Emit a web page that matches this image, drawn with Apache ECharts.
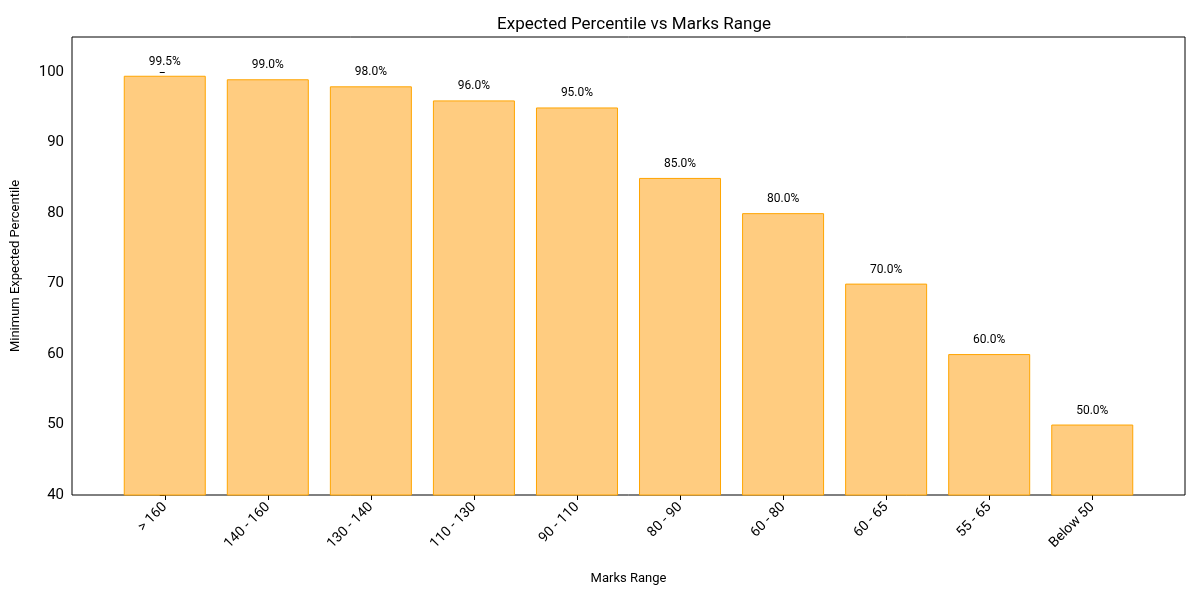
<!DOCTYPE html><html><head><meta charset="utf-8">
<script src="https://cdn.jsdelivr.net/npm/echarts@6/dist/echarts.min.js"></script>
<style>html,body{margin:0;background:#fff}#c{width:1200px;height:600px}</style></head><body><div id="c"></div>
<script>
const categories = ['> 160','140 - 160','130 - 140','110 - 130','90 - 110','80 - 90','60 - 80','60 - 65','55 - 65','Below 50'];
const percentiles = [99.5, 99.0, 98.0, 96.0, 95.0, 85.0, 80.0, 70.0, 60.0, 50.0];
const yTicks = [40, 50, 60, 70, 80, 90, 100];
const idx = categories.map((c,i)=>i);
const chart = echarts.init(document.getElementById('c'));
const font = 'Roboto, "DejaVu Sans", sans-serif';
chart.setOption({
  animation:false,
  textStyle:{fontFamily:font},
  title:{text:'Expected Percentile vs Marks Range',left:629,textAlign:'center',top:11,textStyle:{fontSize:17,fontWeight:'normal',color:'#000'}},
  grid:{left:72,right:15,top:37,bottom:105,show:true,borderColor:'#000',borderWidth:1,containLabel:false},
  xAxis:{type:'value',min:-0.9,max:9.9,splitLine:{show:false},
    name:'Marks Range',nameLocation:'middle',nameGap:77,nameTextStyle:{fontSize:13,color:'#000'},
    axisLine:{show:false},
    axisTick:{show:true,customValues:idx,length:5,lineStyle:{color:'#000'}},
    axisLabel:{customValues:idx,rotate:45,fontSize:14,color:'#000',margin:10,formatter:v=>categories[Math.round(v)]}},
  yAxis:{type:'value',min:40,max:105,interval:10,splitLine:{show:false},
    name:'Minimum Expected Percentile',nameLocation:'middle',nameGap:50,nameTextStyle:{fontSize:13,color:'#000'},
    axisLine:{show:false},axisTick:{show:true,customValues:yTicks,length:5,lineStyle:{color:'#000'}},
    axisLabel:{customValues:yTicks,fontSize:15,color:'#000'}},
  series:[{type:'bar',barWidth:82,
    data:percentiles.map((v,i)=>[i,v]),
    itemStyle:{color:'#FFCC80',borderColor:'#FFA500',borderWidth:1},
    label:{show:true,position:'top',distance:8,fontSize:12,color:'#000',formatter:p=>p.value[1].toFixed(1)+'%'}}]
});
</script></body></html>
